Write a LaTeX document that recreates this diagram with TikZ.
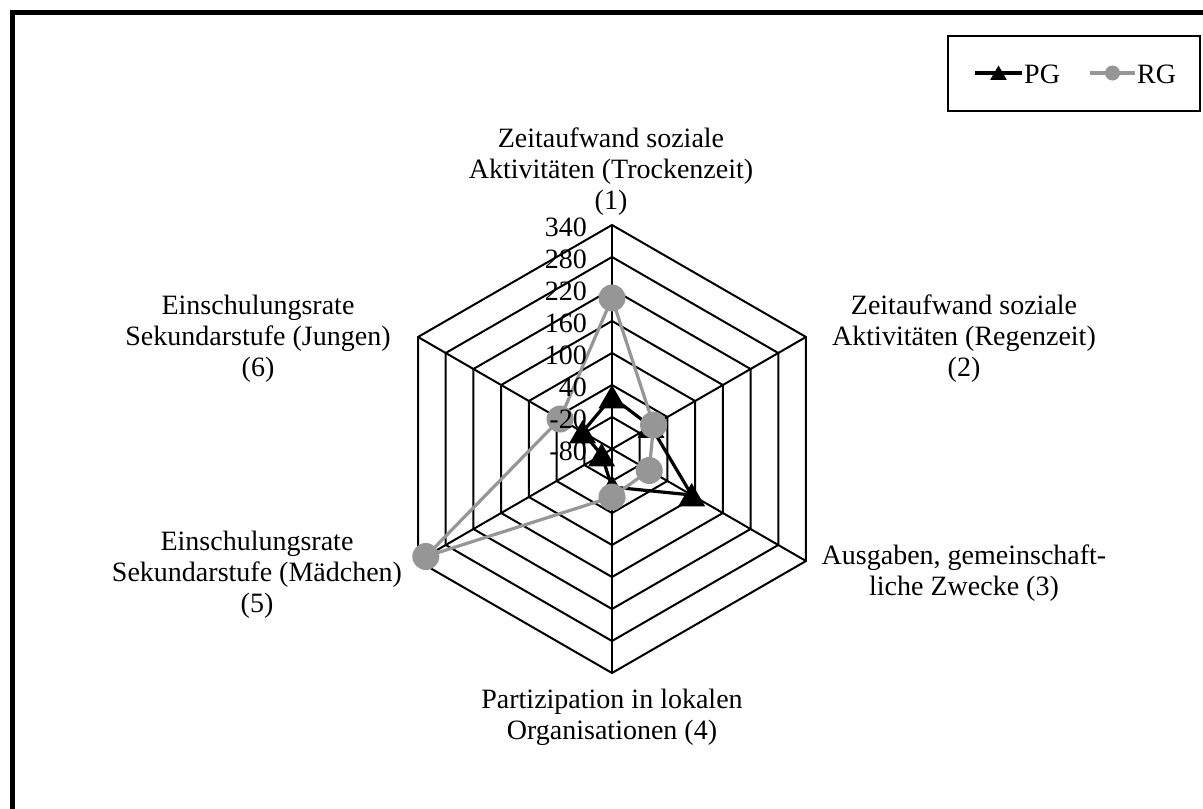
\documentclass[tikz,border=0pt]{standalone}
\usepackage{fontspec}
\setmainfont{Liberation Serif}
\usetikzlibrary{shapes.geometric}
\definecolor{rggray}{RGB}{150,150,150}
\begin{document}
\begin{tikzpicture}[x=1pt,y=-1pt,
  every node/.style={font=\fontsize{28}{31}\selectfont, inner sep=0pt},
  gridline/.style={line width=2pt, black, line join=miter},
  pgline/.style={line width=3.2pt, black, line join=round},
  rgline/.style={line width=3.2pt, rggray, line join=round},
  pgmark/.style={regular polygon, regular polygon sides=3, fill=black, minimum size=31pt, inner sep=0pt, yshift=-3.5pt},
  rgmark/.style={circle, fill=rggray, minimum size=27pt, inner sep=0pt},
  pgkey/.style={regular polygon, regular polygon sides=3, fill=black, minimum size=19pt, inner sep=0pt, yshift=-2pt},
  rgkey/.style={circle, fill=rggray, minimum size=15pt, inner sep=0pt},
  axislabel/.style={align=center, anchor=base},
  ticklabel/.style={anchor=east},
]
\useasboundingbox (0,0) rectangle (1203,809);
\clip (0,0) rectangle (1203,809);
\fill[white] (0,0) rectangle (1203,809);
% chart frame (runs off to the right and bottom)
\draw[line width=5pt] (12.5,12.5) rectangle (1300,900);

% radar grid
\begin{scope}[shift={(612,449)}]
  \coordinate (O) at (0,0);
  \foreach \k in {1,...,7}{
    \pgfmathsetmacro\r{32*\k}
    \draw[gridline] (-90:\r) -- (-30:\r) -- (30:\r) -- (90:\r) -- (150:\r) -- (210:\r) -- cycle;
  }
  \foreach \a in {-90,-30,30,90,150,210}
    \draw[gridline] (O) -- (\a:224);

  % data points
  \coordinate (pg1) at (-90:52);
  \coordinate (pg2) at (-30:45);
  \coordinate (pg3) at (30:92);
  \coordinate (pg4) at (90:38);
  \coordinate (pg5) at (150:12);
  \coordinate (pg6) at (210:34);
  \coordinate (rg1) at (-90:151);
  \coordinate (rg2) at (-30:48);
  \coordinate (rg3) at (30:43);
  \coordinate (rg4) at (90:48);
  \coordinate (rg5) at (150:215);
  \coordinate (rg6) at (210:60);
\end{scope}

% series PG
\draw[pgline] (pg1) -- (pg2) -- (pg3) -- (pg4) -- (pg5) -- (pg6) -- cycle;
\foreach \i in {1,...,6} \node[pgmark] (pgm\i) at (pg\i) {};
% series RG
\draw[rgline] (rg1) -- (rg2) -- (rg3) -- (rg4) -- (rg5) -- (rg6) -- cycle;
\foreach \i in {1,...,6} \node[rgmark] (rgm\i) at (rg\i) {};

% tick labels, on top of the series
\foreach \v [count=\k from 0] in {-80,-20,40,100,160,220,280,340}
  \node[ticklabel] (tick\k) at (587,451-32*\k) {\v};

% axis labels (placed by the baseline of their last line)
\node[axislabel] (lab1) at (611,209) {Zeitaufwand soziale\\Aktivitäten (Trockenzeit)\\(1)};
\node[axislabel] (lab2) at (964,376) {Zeitaufwand soziale\\Aktivitäten (Regenzeit)\\(2)};
\node[axislabel] (lab3) at (964,595) {Ausgaben, gemeinschaft-\\liche Zwecke (3)};
\node[axislabel] (lab4) at (612,739) {Partizipation in lokalen\\Organisationen (4)};
\node[axislabel] (lab5) at (257,612) {Einschulungsrate\\Sekundarstufe (Mädchen)\\(5)};
\node[axislabel] (lab6) at (258,376) {Einschulungsrate\\Sekundarstufe (Jungen)\\(6)};

% legend
\node[draw, line width=1.5pt, minimum width=252pt, minimum height=75pt, anchor=north west] (legend) at (947,35) {};
\coordinate (kpgA) at (975,73);
\coordinate (kpgB) at (1022,73);
\draw[pgline] (kpgA) -- (kpgB);
\node[pgkey] (kpg) at (998.5,73) {};
\node[anchor=west] (kpgt) at (1024,74) {PG};
\coordinate (krgA) at (1090,73);
\coordinate (krgB) at (1135,73);
\draw[rgline] (krgA) -- (krgB);
\node[rgkey] (krg) at (1112.5,73) {};
\node[anchor=west] (krgt) at (1137,74) {RG};
\end{tikzpicture}
\end{document}
